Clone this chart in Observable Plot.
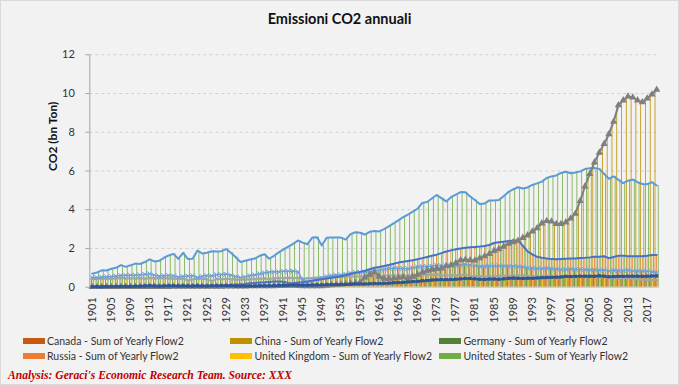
<!DOCTYPE html>
<html><head><meta charset="utf-8">
<script src="https://cdn.jsdelivr.net/npm/d3@7"></script>
<script src="https://cdn.jsdelivr.net/npm/@observablehq/plot@0.6"></script>
<style>
html,body{margin:0;padding:0;background:#F2F2F2;}
#wrap{position:relative;width:679px;height:385px;background:#F2F2F2;overflow:hidden;font-family:Lato,"Liberation Sans",sans-serif;}
#frame{position:absolute;left:0;top:0;width:679px;height:385px;box-sizing:border-box;border:1px solid #D9D9D9;pointer-events:none;}
#title{position:absolute;left:0;width:679px;top:10px;text-align:center;font-weight:bold;font-size:14.5px;color:#111;}
#chart{position:absolute;left:0;top:0;}
.lg{position:absolute;font-size:10.5px;color:#333;white-space:nowrap;line-height:12px;}
.sw{position:absolute;width:22px;height:6px;}
#caption{position:absolute;left:8px;top:369px;font-family:"Liberation Serif","DejaVu Serif",serif;font-weight:bold;font-style:italic;font-size:11.6px;color:#C00000;white-space:nowrap;}
</style></head><body>
<div id="wrap">
  <div id="chart"></div>
  <div id="title">Emissioni CO2 annuali</div>
  <div id="legend"></div>
  <div id="caption">Analysis: Geraci's Economic Research Team. Source: XXX</div>
  <div id="frame"></div>
</div>
<script>
// ---- data ----
const years = d3.range(1901, 2020);
const countries = ["Canada","China","Germany","Russia","United Kingdom","United States"];
const legendLabels = ["Canada - Sum of Yearly Flow2","China - Sum of Yearly Flow2","Germany - Sum of Yearly Flow2","Russia - Sum of Yearly Flow2","United Kingdom - Sum of Yearly Flow2","United States - Sum of Yearly Flow2"];
const barColors = ["#C55A11","#BF9000","#548235","#ED7D31","#FFC000","#70AD47"];
const yTicks = [0,2,4,6,8,10,12];
const xTicks = [1901,1905,1909,1913,1917,1921,1925,1929,1933,1937,1941,1945,1949,1953,1957,1961,1965,1969,1973,1977,1981,1985,1989,1993,1997,2001,2005,2009,2013,2017];

const canada = [
0.02,0.02,0.02,0.03,0.03,0.03,0.04,0.04,0.04,0.05,
0.05,0.06,0.07,0.06,0.05,0.06,0.07,0.07,0.06,0.07,
0.06,0.06,0.07,0.06,0.06,0.07,0.07,0.08,0.08,0.08,
0.06,0.06,0.06,0.06,0.06,0.07,0.07,0.07,0.08,0.09,
0.10,0.10,0.11,0.11,0.10,0.10,0.11,0.12,0.12,0.13,
0.14,0.14,0.14,0.14,0.15,0.17,0.17,0.17,0.18,0.19,
0.19,0.20,0.21,0.23,0.24,0.25,0.27,0.29,0.30,0.33,
0.34,0.37,0.38,0.39,0.39,0.40,0.41,0.43,0.45,0.45,
0.43,0.41,0.40,0.42,0.42,0.41,0.43,0.46,0.47,0.46,
0.45,0.46,0.46,0.48,0.49,0.50,0.51,0.52,0.53,0.56,
0.55,0.56,0.57,0.57,0.57,0.56,0.59,0.57,0.54,0.55,
0.56,0.56,0.57,0.57,0.57,0.56,0.57,0.58,0.58];
const china = [
0.01,0.01,0.01,0.01,0.01,0.02,0.02,0.02,0.02,0.02,
0.02,0.02,0.02,0.02,0.02,0.02,0.02,0.03,0.03,0.03,
0.03,0.03,0.03,0.03,0.03,0.03,0.03,0.03,0.04,0.04,
0.04,0.04,0.04,0.05,0.05,0.05,0.05,0.05,0.06,0.07,
0.07,0.08,0.08,0.07,0.05,0.05,0.05,0.05,0.05,0.08,
0.10,0.13,0.14,0.17,0.20,0.22,0.25,0.50,0.65,0.78,
0.55,0.44,0.44,0.45,0.49,0.53,0.45,0.55,0.65,0.77,
0.86,0.91,0.95,0.97,1.10,1.14,1.25,1.40,1.42,1.40,
1.38,1.50,1.60,1.72,1.87,1.97,2.10,2.25,2.32,2.40,
2.55,2.68,2.88,3.05,3.30,3.42,3.40,3.27,3.27,3.35,
3.55,3.80,4.45,5.20,5.85,6.45,6.95,7.40,7.90,8.55,
9.40,9.65,9.85,9.80,9.65,9.55,9.75,9.95,10.20];
const germany = [
0.50,0.50,0.53,0.54,0.55,0.58,0.61,0.62,0.62,0.62,
0.64,0.67,0.70,0.62,0.58,0.60,0.61,0.59,0.52,0.56,
0.58,0.60,0.50,0.56,0.60,0.59,0.65,0.65,0.68,0.62,
0.55,0.50,0.54,0.60,0.64,0.70,0.75,0.78,0.80,0.80,
0.82,0.82,0.84,0.80,0.35,0.28,0.34,0.42,0.48,0.55,
0.60,0.63,0.64,0.68,0.73,0.77,0.78,0.78,0.79,0.85,
0.87,0.92,0.97,0.98,0.98,0.97,0.95,1.00,1.05,1.07,
1.07,1.09,1.13,1.11,1.06,1.12,1.10,1.14,1.18,1.14,
1.11,1.07,1.07,1.10,1.10,1.10,1.09,1.09,1.08,1.07,
1.04,0.99,0.98,0.96,0.96,0.98,0.95,0.94,0.91,0.92,
0.94,0.92,0.92,0.91,0.89,0.90,0.88,0.89,0.83,0.87,
0.85,0.86,0.88,0.84,0.84,0.84,0.83,0.80,0.76];
const russia = [
0.04,0.04,0.04,0.05,0.05,0.05,0.06,0.06,0.06,0.06,
0.07,0.07,0.08,0.08,0.07,0.07,0.06,0.04,0.03,0.03,
0.03,0.03,0.04,0.04,0.05,0.06,0.07,0.08,0.10,0.12,
0.14,0.15,0.17,0.20,0.22,0.24,0.25,0.27,0.29,0.30,
0.28,0.21,0.21,0.24,0.26,0.30,0.33,0.37,0.41,0.45,
0.49,0.53,0.57,0.62,0.68,0.74,0.79,0.85,0.93,1.00,
1.04,1.09,1.15,1.21,1.27,1.31,1.35,1.39,1.44,1.50,
1.56,1.62,1.68,1.76,1.84,1.90,1.96,2.00,2.04,2.06,
2.08,2.10,2.13,2.18,2.28,2.32,2.35,2.38,2.40,2.42,
2.15,1.85,1.70,1.57,1.52,1.48,1.45,1.44,1.46,1.47,
1.48,1.48,1.51,1.52,1.54,1.57,1.57,1.60,1.50,1.56,
1.62,1.63,1.60,1.60,1.60,1.60,1.62,1.66,1.66];
const uk = [
0.42,0.42,0.43,0.43,0.44,0.45,0.47,0.45,0.45,0.45,
0.46,0.44,0.48,0.45,0.46,0.46,0.45,0.44,0.42,0.45,
0.34,0.41,0.43,0.43,0.41,0.31,0.43,0.41,0.43,0.41,
0.39,0.38,0.38,0.41,0.42,0.44,0.45,0.43,0.45,0.47,
0.47,0.48,0.47,0.48,0.44,0.46,0.47,0.49,0.50,0.51,
0.53,0.52,0.53,0.55,0.55,0.55,0.55,0.54,0.54,0.58,
0.58,0.59,0.60,0.60,0.62,0.61,0.60,0.62,0.64,0.66,
0.65,0.64,0.66,0.62,0.60,0.61,0.62,0.62,0.65,0.59,
0.57,0.56,0.56,0.55,0.57,0.59,0.59,0.59,0.60,0.60,
0.61,0.59,0.58,0.57,0.57,0.59,0.56,0.56,0.56,0.56,
0.57,0.55,0.56,0.56,0.56,0.55,0.55,0.53,0.48,0.50,
0.46,0.48,0.47,0.43,0.41,0.39,0.38,0.37,0.36];
const us = [
0.70,0.76,0.87,0.86,0.95,1.00,1.14,1.05,1.13,1.22,
1.20,1.30,1.44,1.33,1.36,1.52,1.64,1.72,1.46,1.77,
1.46,1.47,1.89,1.74,1.78,1.86,1.84,1.86,1.97,1.78,
1.55,1.30,1.37,1.43,1.48,1.62,1.70,1.47,1.62,1.80,
1.95,2.10,2.24,2.41,2.30,2.22,2.56,2.58,2.15,2.55,
2.57,2.56,2.56,2.46,2.74,2.84,2.81,2.72,2.86,2.90,
2.88,3.00,3.14,3.30,3.45,3.62,3.75,3.90,4.05,4.35,
4.40,4.58,4.76,4.60,4.43,4.65,4.78,4.91,4.90,4.68,
4.50,4.30,4.32,4.48,4.48,4.50,4.70,4.92,5.05,5.16,
5.10,5.15,5.28,5.36,5.45,5.64,5.72,5.77,5.90,5.96,
5.88,5.92,5.98,6.10,6.14,6.16,6.11,5.85,5.60,5.72,
5.55,5.37,5.50,5.56,5.42,5.33,5.32,5.42,5.25];

const series = [canada, china, germany, russia, uk, us];
const rows = countries.flatMap((c, i) => series[i].map((v, j) => ({year: years[j], country: c, idx: i, value: v})));
const of = c => rows.filter(d => d.country === c);

// ---- chart ----
const W = 679, H = 330;
const chart = Plot.plot({
  width: W, height: H,
  marginTop: 54.3, marginBottom: H - 286.7, marginLeft: 89.3, marginRight: 20.4,
  style: {background: "transparent", fontFamily: "Lato, sans-serif", fontSize: "11px", color: "#333", overflow: "visible"},
  x: {domain: [1900.5, 2019.5], ticks: xTicks, tickFormat: d => String(d), tickRotate: -90, tickSize: 0, tickPadding: 10, label: null},
  y: {domain: [0, 12], ticks: yTicks, tickSize: 4, tickPadding: 11, label: null},
  color: {domain: countries, range: barColors},
  marks: [
    Plot.ruleY(yTicks.filter(v => v > 0), {stroke: "#D0D0D0", strokeDasharray: "3,3"}),
    Plot.rectY(rows, {x1: d => d.year - 0.5 + d.idx / 6, x2: d => d.year - 0.5 + (d.idx + 1) / 6, y: "value", fill: "country"}),
    Plot.ruleY([0], {stroke: "#BFBFBF"}),
    Plot.ruleX([1900.5], {stroke: "#A6A6A6"}),
    Plot.line(of("United Kingdom"), {x: "year", y: "value", stroke: "#A5A5A5", strokeWidth: 2}),
    Plot.dot(of("United Kingdom"), {x: "year", y: "value", r: 1.3, fill: "#A5A5A5"}),
    Plot.line(of("Germany"), {x: "year", y: "value", stroke: "#6F9FD8", strokeWidth: 1.5}),
    Plot.dot(of("Germany"), {x: "year", y: "value", symbol: "times", r: 2.2, stroke: "#6F9FD8", strokeWidth: 1}),
    Plot.line(of("Russia"), {x: "year", y: "value", stroke: "#4472C4", strokeWidth: 2}),
    Plot.line(of("United States"), {x: "year", y: "value", stroke: "#5B9BD5", strokeWidth: 2}),
    Plot.line(of("China"), {x: "year", y: "value", stroke: "#7F7F7F", strokeWidth: 2}),
    Plot.dot(of("China"), {x: "year", y: "value", symbol: "triangle", r: 2.7, fill: "#7F7F7F"}),
    Plot.line(of("Canada"), {x: "year", y: "value", stroke: "#2F5597", strokeWidth: 2.5}),
    Plot.dot(of("Canada"), {x: "year", y: "value", symbol: "square", r: 1.8, fill: "#2F5597"}),
    Plot.text(["CO2 (bn Ton)"], {text: d => d, frameAnchor: "left", dx: -36.5, rotate: -90, fontWeight: "bold", fontSize: 12, fill: "#111"})
  ]
});
document.getElementById("chart").appendChild(chart);
chart.querySelectorAll('[aria-label^="y-axis"] line, [aria-label="y-axis tick"] path').forEach(e => e.setAttribute("stroke", "#A6A6A6"));

// ---- legend ----
const lg = document.getElementById("legend");
const colX = [22.5, 230, 439];
const rowY = [341, 356];
countries.forEach((c, i) => {
  const col = i % 3, row = Math.floor(i / 3);
  const sw = document.createElement("div");
  sw.className = "sw";
  sw.style.left = colX[col] + "px";
  sw.style.top = (rowY[row] - 3) + "px";
  sw.style.background = barColors[i];
  lg.appendChild(sw);
  const t = document.createElement("div");
  t.className = "lg";
  t.style.left = (colX[col] + 24.5) + "px";
  t.style.top = (rowY[row] - 6) + "px";
  t.textContent = legendLabels[i];
  lg.appendChild(t);
});
</script>
</body></html>
